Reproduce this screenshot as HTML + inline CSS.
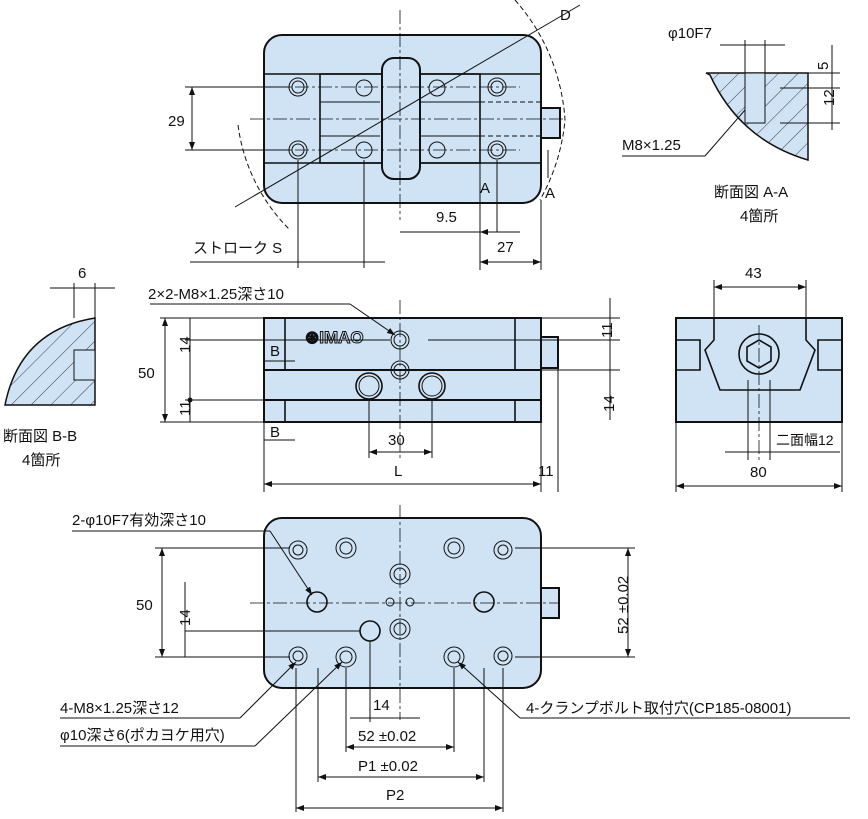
<!DOCTYPE html>
<html><head><meta charset="utf-8"><style>
body{margin:0;background:#fff}
svg{display:block}
text{font-family:"Liberation Sans","Noto Sans CJK JP",sans-serif;font-size:15px;fill:#111}
.b{fill:#cfe3f5;stroke:#111;stroke-width:2}
.l{stroke:#111;stroke-width:1;fill:none}
.t{stroke:#111;stroke-width:1.6;fill:none}
.c{stroke:#111;stroke-width:0.8;fill:none;stroke-dasharray:14 3 3 3}
.d{stroke:#111;stroke-width:1;fill:none;stroke-dasharray:5 3}
</style></head><body>
<svg width="868" height="819" viewBox="0 0 868 819" xmlns="http://www.w3.org/2000/svg">
<defs>
<marker id="a" markerWidth="8" markerHeight="6" refX="8" refY="3" orient="auto-start-reverse"><path d="M0,0 L8,3 L0,6z" fill="#111"/></marker>
<pattern id="h" width="14" height="14" patternUnits="userSpaceOnUse" patternTransform="rotate(45)"><rect width="14" height="14" fill="#cfe3f5"/><line x1="0" y1="0" x2="0" y2="14" stroke="#111" stroke-width="0.8"/></pattern>
</defs>

<!-- TOP VIEW -->
<rect class="b" x="264" y="35" width="277" height="168" rx="18"/>
<line class="t" x1="264" y1="74" x2="541" y2="74"/>
<line class="t" x1="264" y1="163" x2="541" y2="163"/>
<rect class="t" x="320" y="74" width="160" height="89" fill="none"/>
<line class="l" x1="320" y1="102" x2="380" y2="102"/><line class="l" x1="420" y1="102" x2="480" y2="102"/>
<line class="l" x1="320" y1="136" x2="380" y2="136"/><line class="l" x1="420" y1="136" x2="480" y2="136"/>
<rect class="b" x="541" y="108" width="19" height="30"/>
<rect class="b" x="382" y="58" width="38" height="121" rx="12"/>
<line class="d" x1="480" y1="102" x2="541" y2="102"/><line class="d" x1="480" y1="136" x2="541" y2="136"/>
<g class="l">
<circle cx="298" cy="87" r="9"/><circle cx="298" cy="87" r="6"/>
<circle cx="298" cy="150" r="9"/><circle cx="298" cy="150" r="6"/>
<circle cx="497" cy="87" r="9"/><circle cx="497" cy="87" r="6"/>
<circle cx="497" cy="150" r="9"/><circle cx="497" cy="150" r="6"/>
<circle cx="364" cy="88" r="8"/><circle cx="437" cy="88" r="8"/>
<circle cx="364" cy="150" r="8"/><circle cx="437" cy="150" r="8"/>
</g>
<line class="c" x1="250" y1="119" x2="565" y2="119"/>
<line class="c" x1="400" y1="10" x2="400" y2="220"/>
<line class="c" x1="272" y1="87" x2="520" y2="87"/><line class="c" x1="272" y1="150" x2="520" y2="150"/>
<line class="l" x1="235" y1="207" x2="580" y2="5"/>
<path class="d" d="M515,0 A200,200 0 0 1 565,120 A200,200 0 0 1 540,200"/>
<path class="d" d="M238,125 A180,180 0 0 0 290,230"/>
<text x="560" y="20">D</text>
<line class="l" x1="185" y1="87" x2="290" y2="87"/><line class="l" x1="185" y1="150" x2="290" y2="150"/>
<line class="l" x1="192" y1="87" x2="192" y2="150" marker-start="url(#a)" marker-end="url(#a)"/>
<text x="168" y="126">29</text>
<line class="l" x1="480" y1="140" x2="480" y2="270"/><line class="l" x1="541" y1="200" x2="541" y2="270"/>
<line class="l" x1="497" y1="160" x2="497" y2="232"/>
<line class="l" x1="400" y1="232" x2="520" y2="232"/>
<line class="l" x1="480" y1="232" x2="497" y2="232" marker-start="url(#a)"/>
<text x="436" y="222">9.5</text>
<line class="l" x1="480" y1="262" x2="541" y2="262" marker-start="url(#a)" marker-end="url(#a)"/>
<text x="497" y="252">27</text>
<line class="l" x1="298" y1="160" x2="298" y2="268"/><line class="l" x1="364" y1="160" x2="364" y2="268"/>
<line class="l" x1="190" y1="262" x2="385" y2="262"/>
<text x="193" y="253">ストローク S</text>
<text x="480" y="193">A</text><text x="545" y="198">A</text>
<line class="l" x1="548" y1="150" x2="548" y2="178"/>

<!-- Section A-A -->
<path d="M706,73 L808,73 L808,160 Q740,140 710,75 Z" fill="url(#h)" stroke="#111" stroke-width="1.5"/>
<rect x="745" y="73" width="20" height="50" fill="#cfe3f5" stroke="#111"/>
<line class="l" x1="745" y1="40" x2="745" y2="73"/><line class="l" x1="765" y1="40" x2="765" y2="73"/>
<line class="l" x1="720" y1="45" x2="785" y2="45"/>
<text x="668" y="38">φ10F7</text>
<line class="l" x1="780" y1="73" x2="840" y2="73"/><line class="l" x1="780" y1="88" x2="840" y2="88"/><line class="l" x1="780" y1="123" x2="840" y2="123"/>
<line class="l" x1="832" y1="45" x2="832" y2="130"/>
<text x="820" y="62" transform="rotate(-90 828 62)">5</text>
<text x="828" y="112" transform="rotate(-90 828 106)">12</text>
<text x="622" y="150">M8×1.25</text>
<line class="l" x1="622" y1="156" x2="705" y2="156"/><line class="l" x1="705" y1="156" x2="745" y2="110"/>
<text x="714" y="197">断面図 A-A</text><text x="740" y="221">4箇所</text>

<!-- Section B-B -->
<path d="M95,318 L95,405 L5,405 Q20,330 95,318Z" fill="url(#h)" stroke="#111" stroke-width="1.5"/>
<rect x="74" y="350" width="21" height="30" fill="#cfe3f5" stroke="#111"/>
<line class="l" x1="74" y1="283" x2="74" y2="318"/><line class="l" x1="95" y1="283" x2="95" y2="318"/>
<line class="l" x1="50" y1="288" x2="115" y2="288"/>
<text x="78" y="278">6</text>
<text x="3" y="441">断面図 B-B</text><text x="22" y="465">4箇所</text>

<!-- FRONT VIEW -->
<rect class="b" x="264" y="318" width="277" height="104"/>
<line class="t" x1="285" y1="318" x2="285" y2="422"/><line class="t" x1="515" y1="318" x2="515" y2="422"/>
<rect class="b" x="264" y="370" width="277" height="30"/>
<rect class="b" x="541" y="337" width="17" height="31"/>
<circle class="t" cx="369" cy="386" r="13" fill="#cfe3f5"/><circle class="l" cx="369" cy="386" r="10"/>
<circle class="t" cx="432" cy="386" r="13" fill="#cfe3f5"/><circle class="l" cx="432" cy="386" r="10"/>
<circle class="l" cx="400" cy="340" r="9"/><circle class="l" cx="400" cy="340" r="6"/>
<circle class="l" cx="400" cy="370" r="9"/><circle class="l" cx="400" cy="370" r="6"/>
<text x="305" y="343" style="font-weight:bold;font-size:17px;fill:#cfe3f5;stroke:#111;stroke-width:1">⊛IMAO</text>
<line class="c" x1="400" y1="300" x2="400" y2="460"/>
<line class="l" x1="428" y1="340" x2="620" y2="340"/><line class="l" x1="370" y1="370" x2="620" y2="370"/>
<line class="l" x1="160" y1="318" x2="264" y2="318"/><line class="l" x1="160" y1="422" x2="264" y2="422"/>
<line class="l" x1="185" y1="340" x2="390" y2="340"/><line class="l" x1="185" y1="400" x2="264" y2="400"/>
<line class="l" x1="165" y1="318" x2="165" y2="422" marker-start="url(#a)" marker-end="url(#a)"/>
<text x="138" y="378">50</text>
<line class="l" x1="190" y1="318" x2="190" y2="422"/><circle cx="190" cy="400" r="2.5" fill="#111"/>
<text x="172" y="355" transform="rotate(-90 180 345)">14</text>
<text x="172" y="418" transform="rotate(-90 180 408)">11</text>
<line class="l" x1="540" y1="318" x2="620" y2="318"/>
<line class="l" x1="610" y1="298" x2="610" y2="420"/>
<text x="598" y="336" transform="rotate(-90 606 330)">11</text>
<text x="598" y="412" transform="rotate(-90 606 404)">14</text>
<text x="148" y="299">2×2-M8×1.25深さ10</text>
<line class="l" x1="150" y1="304" x2="350" y2="304"/><line class="l" x1="350" y1="304" x2="395" y2="335" marker-end="url(#a)"/>
<text x="270" y="356">B</text><text x="270" y="437">B</text>
<line class="l" x1="264" y1="361" x2="295" y2="361"/><line class="l" x1="264" y1="440" x2="295" y2="440"/>
<line class="l" x1="264" y1="422" x2="264" y2="492"/><line class="l" x1="541" y1="422" x2="541" y2="492"/><line class="l" x1="558" y1="368" x2="558" y2="492"/>
<line class="l" x1="264" y1="484" x2="541" y2="484" marker-start="url(#a)" marker-end="url(#a)"/>
<text x="394" y="476">L</text><text x="538" y="476">11</text>
<line class="l" x1="369" y1="399" x2="369" y2="458"/><line class="l" x1="432" y1="399" x2="432" y2="458"/>
<line class="l" x1="369" y1="452" x2="432" y2="452" marker-start="url(#a)" marker-end="url(#a)"/>
<text x="388" y="445">30</text>

<!-- RIGHT VIEW -->
<rect class="b" x="676" y="318" width="166" height="104"/>
<path class="t" d="M676,340 L700,340 L700,370 L676,370 M842,340 L818,340 L818,370 L842,370"/>
<path class="t" d="M714,318 L714,340 L705,350 L720,390 L800,390 L815,350 L806,340 L806,318"/>
<circle class="t" cx="759" cy="354" r="20"/><polygon class="t" points="759,340 771,347 771,361 759,368 747,361 747,347"/>
<line class="c" x1="759" y1="325" x2="759" y2="460"/>
<line class="l" x1="714" y1="280" x2="714" y2="318"/><line class="l" x1="806" y1="280" x2="806" y2="318"/>
<line class="l" x1="714" y1="287" x2="806" y2="287" marker-start="url(#a)" marker-end="url(#a)"/>
<text x="745" y="278">43</text>
<line class="l" x1="676" y1="422" x2="676" y2="492"/><line class="l" x1="842" y1="422" x2="842" y2="492"/>
<line class="l" x1="676" y1="486" x2="842" y2="486" marker-start="url(#a)" marker-end="url(#a)"/>
<text x="750" y="477">80</text>
<line class="l" x1="748" y1="380" x2="748" y2="460"/><line class="l" x1="770" y1="380" x2="770" y2="460"/>
<line class="l" x1="725" y1="452" x2="840" y2="452"/>
<text x="776" y="445" style="font-size:14px">二面幅12</text>

<!-- BOTTOM VIEW -->
<rect class="b" x="264" y="518" width="277" height="170" rx="18"/>
<rect class="b" x="541" y="588" width="18" height="30"/>
<g class="l">
<circle cx="298" cy="550" r="9"/><circle cx="298" cy="550" r="5"/>
<circle cx="346" cy="548" r="10"/><circle cx="346" cy="548" r="6"/>
<circle cx="454" cy="548" r="10"/><circle cx="454" cy="548" r="6"/>
<circle cx="503" cy="550" r="9"/><circle cx="503" cy="550" r="5"/>
<circle cx="298" cy="656" r="9"/><circle cx="298" cy="656" r="5"/>
<circle cx="346" cy="657" r="10"/><circle cx="346" cy="657" r="6"/>
<circle cx="454" cy="657" r="10"/><circle cx="454" cy="657" r="6"/>
<circle cx="503" cy="656" r="9"/><circle cx="503" cy="656" r="5"/>
<circle cx="400" cy="574" r="10"/><circle cx="400" cy="574" r="6"/>
<circle cx="400" cy="629" r="10"/><circle cx="400" cy="629" r="6"/>
<circle cx="390" cy="602" r="4"/><circle cx="410" cy="602" r="4"/>
</g>
<circle class="t" cx="317" cy="602" r="10"/><circle class="t" cx="484" cy="602" r="10"/><circle class="t" cx="370" cy="631" r="10"/>
<line class="c" x1="400" y1="505" x2="400" y2="720"/><line class="c" x1="250" y1="603" x2="560" y2="603"/>
<line class="l" x1="155" y1="548" x2="290" y2="548"/><line class="l" x1="155" y1="657" x2="290" y2="657"/>
<line class="l" x1="162" y1="548" x2="162" y2="657" marker-start="url(#a)" marker-end="url(#a)"/>
<text x="136" y="610">50</text>
<line class="l" x1="185" y1="582" x2="185" y2="657"/><line class="l" x1="185" y1="631" x2="360" y2="631"/>
<text x="172" y="628" transform="rotate(-90 180 618)">14</text>
<line class="l" x1="515" y1="548" x2="635" y2="548"/><line class="l" x1="515" y1="657" x2="635" y2="657"/>
<line class="l" x1="628" y1="548" x2="628" y2="657" marker-start="url(#a)" marker-end="url(#a)"/>
<text x="590" y="608" transform="rotate(-90 622 602)">52 ±0.02</text>
<text x="72" y="525">2-φ10F7有効深さ10</text>
<line class="l" x1="72" y1="531" x2="270" y2="531"/><line class="l" x1="270" y1="531" x2="312" y2="595" marker-end="url(#a)"/>
<text x="60" y="713">4-M8×1.25深さ12</text>
<line class="l" x1="60" y1="718" x2="240" y2="718"/><line class="l" x1="240" y1="718" x2="296" y2="662" marker-end="url(#a)"/>
<text x="60" y="740">φ10深さ6(ポカヨケ用穴)</text>
<line class="l" x1="60" y1="746" x2="255" y2="746"/><line class="l" x1="255" y1="746" x2="342" y2="662" marker-end="url(#a)"/>
<text x="526" y="713">4-クランプボルト取付穴(CP185-08001)</text>
<line class="l" x1="520" y1="718" x2="850" y2="718"/><line class="l" x1="520" y1="718" x2="458" y2="662" marker-end="url(#a)"/>
<line class="l" x1="370" y1="641" x2="370" y2="722"/><line class="l" x1="346" y1="668" x2="346" y2="752"/><line class="l" x1="454" y1="668" x2="454" y2="752"/>
<line class="l" x1="318" y1="668" x2="318" y2="782"/><line class="l" x1="484" y1="668" x2="484" y2="782"/>
<line class="l" x1="296" y1="668" x2="296" y2="812"/><line class="l" x1="503" y1="668" x2="503" y2="812"/>
<line class="l" x1="350" y1="718" x2="420" y2="718"/>
<text x="373" y="710">14</text>
<line class="l" x1="346" y1="747" x2="454" y2="747" marker-start="url(#a)" marker-end="url(#a)"/>
<text x="358" y="741">52 ±0.02</text>
<line class="l" x1="318" y1="777" x2="484" y2="777" marker-start="url(#a)" marker-end="url(#a)"/>
<text x="358" y="771">P1 ±0.02</text>
<line class="l" x1="296" y1="808" x2="503" y2="808" marker-start="url(#a)" marker-end="url(#a)"/>
<text x="386" y="800">P2</text>
</svg>
</body></html>
